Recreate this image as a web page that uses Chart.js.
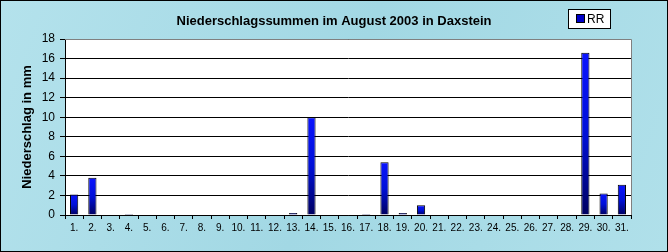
<!DOCTYPE html>
<html>
<head>
<meta charset="utf-8">
<script src="https://cdn.jsdelivr.net/npm/chart.js@4"></script>
<style>
  html, body { margin: 0; padding: 0; background: #a8dce8; }
  #wrap { width: 668px; height: 252px; }
</style>
</head>
<body>
<div id="wrap"><canvas id="chart" width="668" height="252"></canvas></div>
<script>
// Data
const days = ['1.', '2.', '3.', '4.', '5.', '6.', '7.', '8.', '9.', '10.', '11.', '12.', '13.', '14.', '15.', '16.',
              '17.', '18.', '19.', '20.', '21.', '22.', '23.', '24.', '25.', '26.', '27.', '28.', '29.', '30.', '31.'];
const rainfall = [2.1, 3.8, 0, 0.1, 0, 0, 0, 0, 0, 0, 0, 0, 0.2, 10.0, 0, 0,
                  0.1, 5.4, 0.2, 1.0, 0, 0, 0, 0, 0, 0, 0, 0, 16.6, 2.2, 3.1];
const seriesName = 'RR';
const chartTitle = 'Niederschlagssummen im August 2003 in Daxstein';
const yAxisTitle = 'Niederschlag in mm';

const fontFamily = '"Liberation Sans", Arial, sans-serif';

// Background, white plot area, frame, titles and legend box
const decoPlugin = {
    id: 'deco',
    beforeDraw(chart) {
        const { ctx, chartArea: a, width, height } = chart;
        ctx.save();
        const g = ctx.createLinearGradient(0, 0, width, height);
        g.addColorStop(0, '#b4e2ec');
        g.addColorStop(0.5, '#a2d8e4');
        g.addColorStop(1, '#b0e0ea');
        ctx.fillStyle = g;
        ctx.fillRect(0, 0, width, height);
        ctx.fillStyle = '#ffffff';
        ctx.fillRect(a.left, a.top, a.right - a.left, a.bottom - a.top);
        ctx.restore();
    },
    afterDraw(chart) {
        const { ctx, chartArea: a, width, height } = chart;
        ctx.save();
        // gray frame top/right
        ctx.strokeStyle = '#808080';
        ctx.lineWidth = 1;
        ctx.beginPath();
        ctx.moveTo(a.left, a.top + 0.5);
        ctx.lineTo(a.right + 0.5, a.top + 0.5);
        ctx.lineTo(a.right + 0.5, a.bottom);
        ctx.stroke();
        // outer black border
        ctx.strokeStyle = '#000000';
        ctx.strokeRect(0.5, 0.5, width - 1, height - 1);
        // chart title
        ctx.fillStyle = '#000000';
        ctx.font = 'bold 13px ' + fontFamily;
        ctx.textAlign = 'center';
        ctx.textBaseline = 'middle';
        ctx.fillText(chartTitle, width / 2, 21);
        // y axis title
        ctx.save();
        ctx.translate(27, (a.top + a.bottom) / 2);
        ctx.rotate(-Math.PI / 2);
        ctx.fillText(yAxisTitle, 0, 0);
        ctx.restore();
        // legend
        const lx = 568, ly = 9, lw = 43, lh = 20;
        ctx.fillStyle = '#ffffff';
        ctx.fillRect(lx, ly, lw, lh);
        ctx.strokeRect(lx + 0.5, ly + 0.5, lw - 1, lh - 1);
        ctx.fillStyle = '#0000c8';
        ctx.fillRect(lx + 9, ly + 6, 7, 7);
        ctx.strokeRect(lx + 8.5, ly + 5.5, 8, 8);
        ctx.fillStyle = '#000000';
        ctx.font = '12px ' + fontFamily;
        ctx.textAlign = 'left';
        ctx.fillText(seriesName, lx + 19, ly + lh / 2 + 1);
        ctx.restore();
    }
};

function barGradient(context) {
    const chart = context.chart;
    if (!chart.chartArea) return '#0000ff';
    const y = chart.scales.y;
    const v = context.raw || 0;
    const top = y.getPixelForValue(v);
    const bottom = y.getPixelForValue(0);
    if (bottom - top < 1) return '#000080';
    const g = chart.ctx.createLinearGradient(0, top, 0, bottom);
    g.addColorStop(0, '#0a14ff');
    g.addColorStop(0.5, '#0010d8');
    g.addColorStop(1, '#000060');
    return g;
}

const ctx = document.getElementById('chart').getContext('2d');
new Chart(ctx, {
    type: 'bar',
    data: {
        labels: days,
        datasets: [{
            label: seriesName,
            data: rainfall,
            backgroundColor: barGradient,
            borderColor: '#000000',
            borderWidth: 1,
            borderSkipped: 'bottom',
            barPercentage: 0.45,
            categoryPercentage: 1.0
        }]
    },
    options: {
        responsive: false,
        animation: false,
        layout: { padding: { left: 0, right: 37, top: 39, bottom: 0 } },
        plugins: {
            legend: { display: false },
            tooltip: { enabled: false },
            title: { display: false }
        },
        scales: {
            x: {
                grid: {
                    display: true,
                    drawOnChartArea: false,
                    offset: true,
                    tickLength: 4,
                    color: '#000000'
                },
                border: { color: '#000000' },
                ticks: {
                    color: '#000000',
                    maxRotation: 0,
                    autoSkip: false,
                    padding: 3,
                    font: { family: fontFamily, size: 10 }
                },
                afterFit(scale) { scale.height = 37; }
            },
            y: {
                min: 0,
                max: 18,
                ticks: {
                    stepSize: 2,
                    autoSkip: false,
                    color: '#000000',
                    padding: 5,
                    font: { family: fontFamily, size: 12 }
                },
                grid: { color: '#000000', tickLength: 5 },
                border: { color: '#000000' },
                afterFit(scale) { scale.width = 65; }
            }
        }
    },
    plugins: [decoPlugin]
});
</script>
</body>
</html>
